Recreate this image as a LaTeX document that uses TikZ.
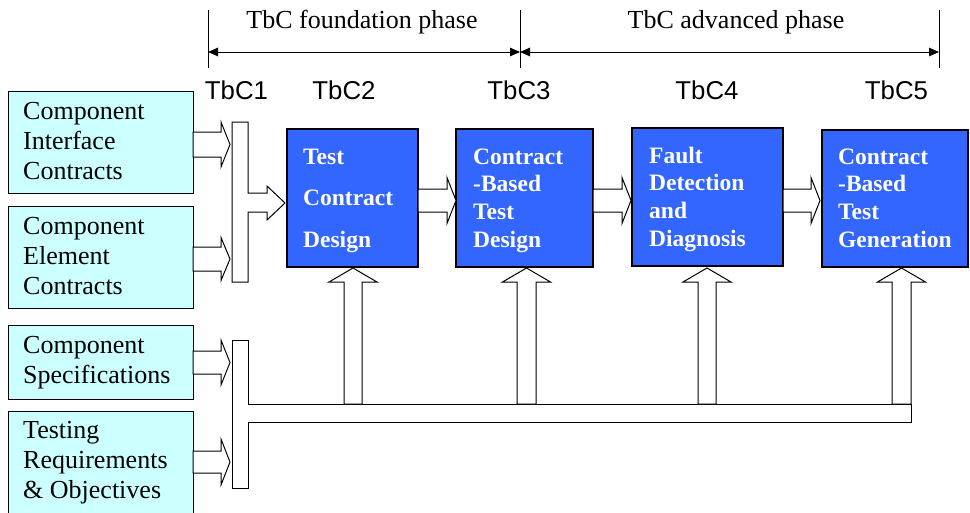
\documentclass[tikz,border=0pt]{standalone}
\usepackage{fontspec}
\setmainfont{Liberation Serif}
\newfontfamily\arialfont{Liberation Sans}
\usetikzlibrary{arrows.meta}
\definecolor{cyanbox}{HTML}{CCFFFF}
\definecolor{bluebox}{HTML}{3366FF}
% right-pointing block arrow: shaft start x, head base x, tip x, centre y, shaft half, head half
\newcommand\blkR[6]{\draw[blk] (#1,#4-#5) -- (#2,#4-#5) -- (#2,#4-#6) -- (#3,#4) -- (#2,#4+#6) -- (#2,#4+#5) -- (#1,#4+#5) -- cycle;}
% up-pointing block arrow: shaft bottom y, head base y, tip y, centre x, shaft half, head half
\newcommand\blkU[6]{\draw[blk] (#4-#5,#1) -- (#4-#5,#2) -- (#4-#6,#2) -- (#4,#3) -- (#4+#6,#2) -- (#4+#5,#2) -- (#4+#5,#1) -- cycle;}
\begin{document}
\begin{tikzpicture}[x=1pt,y=-1pt,
  leftbox/.style={draw=black, fill=cyanbox, line width=1pt, inner sep=0pt, outer sep=0pt, anchor=north west},
  bluebox/.style={draw=black, fill=bluebox, line width=1.1pt, inner sep=0pt, outer sep=0pt, anchor=north west},
  lefttext/.style={anchor=north west, inner sep=0pt, align=left, font=\fontsize{26}{30}\selectfont},
  bluetext/.style={anchor=north west, inner sep=0pt, align=left, text=white, font=\bfseries\fontsize{23.5}{27.7}\selectfont},
  blk/.style={draw=black, fill=white, line width=1pt, line join=miter},
  tbc/.style={anchor=base, inner sep=0pt, font=\arialfont\fontsize{25.8}{30}\selectfont},
  phase/.style={anchor=base, inner sep=0pt, font=\fontsize{26}{30}\selectfont},
  tick/.style={draw=black, line width=1pt},
  span/.style={draw=black, line width=1pt, {Triangle[length=10pt,width=8.5pt]}-{Triangle[length=10pt,width=8.5pt]}}
]
\useasboundingbox (0,0) rectangle (970,512);

% timeline
\coordinate (t1) at (208,52);
\coordinate (t3) at (520,52);
\coordinate (t5) at (939,52);
\draw[tick] (208,10) -- (208,68);
\draw[tick] (520,10) -- (520,68);
\draw[tick] (939,10) -- (939,68);
\draw[span] (t1) -- (t3);
\draw[span] (t3) -- (t5);
\node[phase] (ph1) at (362,28) {TbC foundation phase};
\node[phase] (ph2) at (736,28) {TbC advanced phase};

\node[tbc] (l1) at (236.5,99) {TbC1};
\node[tbc] (l2) at (344,99) {TbC2};
\node[tbc] (l3) at (519,99) {TbC3};
\node[tbc] (l4) at (707,99) {TbC4};
\node[tbc] (l5) at (896.5,99) {TbC5};

% left input boxes
\node[leftbox, minimum width=185pt, minimum height=102pt] (c1) at (8,91) {};
\node[leftbox, minimum width=185pt, minimum height=102pt] (c2) at (8,206) {};
\node[leftbox, minimum width=185pt, minimum height=74pt] (c3) at (8,325) {};
\node[leftbox, minimum width=185pt, minimum height=106pt] (c4) at (8,411) {};
\node[lefttext] (c1t) at (23,98) {\strut Component\\\strut Interface\\\strut Contracts};
\node[lefttext] (c2t) at (23,213) {\strut Component\\\strut Element\\\strut Contracts};
\node[lefttext] (c3t) at (23,332) {\strut Component\\\strut Specifications};
\node[lefttext] (c4t) at (23,417) {\strut Testing\\\strut Requirements\\\strut \& Objectives};

% blue process boxes
\node[bluebox, minimum width=131pt, minimum height=138pt] (b2) at (287,129) {};
\node[bluebox, minimum width=137pt, minimum height=138pt] (b3) at (456,129) {};
\node[bluebox, minimum width=151pt, minimum height=138pt] (b4) at (632,128) {};
\node[bluebox, minimum width=146pt, minimum height=137pt] (b5) at (822,130) {};
\node[bluetext, font=\bfseries\fontsize{23.5}{41.5}\selectfont] (b2t) at (303,135) {\strut Test\\\strut Contract\\\strut Design};
\node[bluetext] (b3t) at (473,144.6) {\strut Contract\\\strut -Based\\\strut Test\\\strut Design};
\node[bluetext] (b4t) at (649,143.6) {\strut Fault\\\strut Detection\\\strut and\\\strut Diagnosis};
\node[bluetext] (b5t) at (838,144.6) {\strut Contract\\\strut -Based\\\strut Test\\\strut Generation};

% bar 1 with its arrow into TbC2
\draw[blk] (232,122) -- (248,122) -- (248,193) -- (267,193) -- (267,186) -- (285,203)
  -- (267,220) -- (267,212) -- (248,212) -- (248,282) -- (232,282) -- cycle;

% bar 2 with the bus
\draw[blk] (232,340) -- (248,340) -- (248,404) -- (911,404) -- (911,422) -- (248,422)
  -- (248,488) -- (232,488) -- cycle;

% inputs into the bars
\blkR{193}{221}{230}{144.5}{12.5}{22.5}
\blkR{193}{221}{230}{259}{12}{21.5}
\blkR{193}{221}{230}{362.5}{11.5}{22.5}
\blkR{193}{221}{230}{462}{11}{23}

% arrows between the blue boxes
\blkR{418}{447}{456}{200.5}{11.5}{23}
\blkR{593}{622}{631}{200.5}{11.5}{23}
\blkR{783}{811}{820}{200.5}{11.5}{23}

% up arrows from the bus
\blkU{404}{282}{268}{353}{9}{24}
\blkU{404}{282}{268}{526.5}{9.5}{24}
\blkU{404}{282}{268}{707}{9}{24}
\blkU{404}{282}{268}{901.5}{9.5}{24}
\end{tikzpicture}
\end{document}
